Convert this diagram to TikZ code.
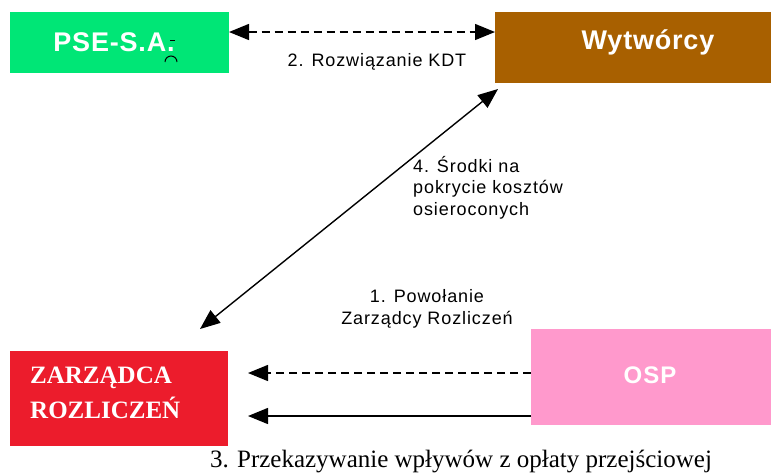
\documentclass[tikz,border=0pt]{standalone}
\usepackage{fontspec}
\setmainfont{Liberation Serif}
\setsansfont{Liberation Sans}
\usetikzlibrary{arrows.meta}
\definecolor{pse}{RGB}{0,230,118}
\definecolor{wyt}{RGB}{168,96,0}
\definecolor{zr}{RGB}{236,28,44}
\definecolor{osp}{RGB}{255,153,204}
\tikzset{
  box/.style={draw=none, inner sep=0pt, anchor=north west},
  conn/.style={line width=1.4pt, -{Triangle[length=20pt,width=16pt]}},
  biconn/.style={line width=1.4pt, {Triangle[length=20pt,width=16pt]}-{Triangle[length=20pt,width=16pt]}},
  dsh/.style={dash pattern=on 8pt off 5pt},
  lbl/.style={font=\sffamily\fontsize{18}{21.5}\selectfont\addfontfeatures{LetterSpace=5}, inner sep=0pt},
  title/.style={text=white, font=\sffamily\bfseries\fontsize{27}{30}\selectfont\addfontfeatures{LetterSpace=3}, inner sep=0pt},
}
\begin{document}
\begin{tikzpicture}[x=1pt,y=-1pt]
\useasboundingbox (0,0) rectangle (771,475);
% boxes
\node[box, fill=pse, minimum width=219pt, minimum height=61pt] (pse) at (10,12) {};
\node[title] (psel) at (114,42) {PSE-S.A.};
\draw[line width=1pt] (170,40) -- (175,40);
\draw[line width=1pt] (165,62) arc[start angle=180, end angle=0, radius=6pt];
\node[box, fill=wyt, minimum width=276pt, minimum height=71pt] (wyt) at (495,12) {};
\node[title] (wytl) at (648,42) {Wytwórcy};
\node[box, fill=zr, minimum width=218pt, minimum height=95pt] (zr) at (10,351) {};
\node[text=white, font=\bfseries\fontsize{25}{35}\selectfont, align=left, inner sep=0pt, anchor=west] (zrl) at (30,393) {ZARZĄDCA\\ROZLICZEŃ};
\node[box, fill=osp, minimum width=240pt, minimum height=96pt] (osp) at (531,329) {};
\node[title, font=\sffamily\bfseries\fontsize{24}{28}\selectfont\addfontfeatures{LetterSpace=4}] (ospl) at (650,375) {OSP};
% connector endpoints
\coordinate (a1) at (229,32);
\coordinate (a2) at (495,32);
\coordinate (d1) at (498,89);
\coordinate (d2) at (200,329);
\coordinate (o1) at (531,373);
\coordinate (z1) at (248,373);
\coordinate (o2) at (531,416);
\coordinate (z2) at (248,416);
\draw[biconn, dsh] (a1) -- (a2);
\draw[biconn] (d1) -- (d2);
\draw[conn, dsh] (o1) -- (z1);
\draw[conn] (o2) -- (z2);
% labels
\node[lbl] (l2) at (377,62) {2. Rozwiązanie KDT};
\node[lbl, align=left, anchor=north west] (l4) at (413,156) {4. Środki na\\pokrycie kosztów\\osieroconych};
\node[lbl, align=center] (l1) at (427,309) {1. Powołanie\\Zarządcy Rozliczeń};
\node[font=\fontsize{25}{28}\selectfont, inner sep=0pt] (l3) at (461,461) {3. Przekazywanie wpływów z opłaty przejściowej};
\end{tikzpicture}
\end{document}
